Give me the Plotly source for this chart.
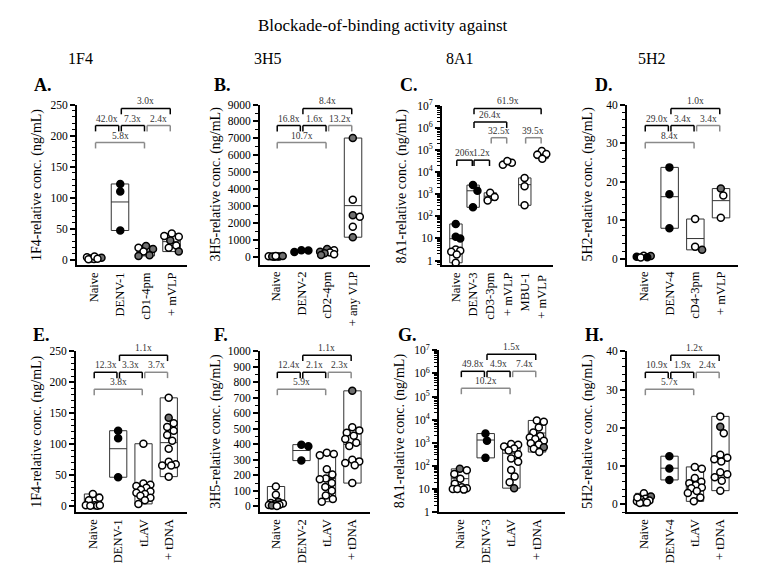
import numpy as np
import plotly.graph_objects as go

# ---------------- data ----------------
A_cats = ["Naive", "DENV-1", "cD1-4pm", "+ mVLP"]
A_vals = [[4, 2, 1, 0.5, 3, 5, 1.5], [122, 110, 47], [22, 19, 17, 13, 7, 6], [42, 38, 37, 31, 23, 19, 13]]
A_fill = ["wgwwgww", "kkk", "gwgwgg", "wwwgwwg"]
A_brk = [(1, 3, 0, "3.0x"), (0, 1, 1, "42.0x"), (1, 2, 1, "7.3x"), (2, 3, 1, "2.4x"), (0, 2, 2, "5.8x")]

B_cats = ["Naive", "DENV-2", "cD2-4pm", "+ any VLP"]
B_vals = [[20, 10, 40, 5, 30, 15, 50], [280, 370, 380], [450, 380, 300, 250, 200, 150, 100],
          [7020, 3365, 2365, 2460, 1770, 1154]]
B_fill = ["wwgwwgw", "kkk", "gwgwgwg", "gwwgwg"]
B_brk = [(1, 3, 0, "8.4x"), (0, 1, 1, "16.8x"), (1, 2, 1, "1.6x"), (2, 3, 1, "13.2x"), (0, 2, 2, "10.7x")]

C_cats = ["Naive", "DENV-3", "cD3-3pm", "+ mVLP", "MBU-1", "+ mVLP "]
C_vals = [[45, 12, 10, 3.2, 2.8, 2.5, 1.9, 0.8], [2560, 1440, 255], [1150, 520, 750],
          [21000, 26000, 31000], [5400, 2300, 314], [88000, 65000, 60000, 40000]]
C_fill = ["kkkwwwww", "kkk", "www", "www", "www", "wwww"]
C_brk = [(1, 5, 0, "61.9x"), (1, 3, 1, "26.4x"), (2, 3, 2, "32.5x"), (4, 5, 2, "39.5x"),
         (0, 1, 3, "206x"), (1, 2, 3, "1.2x")]

D_cats = ["Naive", "DENV-4", "cD4-3pm", "+ mVLP"]
D_vals = [[0.5, 0.8, 0.3, 0.7, 0.4], [23.7, 16.7, 7.9], [10.3, 3.1, 2.3], [18.2, 16.4, 10.6]]
D_fill = ["kwwgk", "kkk", "wwg", "gww"]
D_brk = [(1, 3, 0, "1.0x"), (0, 1, 1, "29.0x"), (1, 2, 1, "3.4x"), (2, 3, 1, "3.4x"), (0, 2, 2, "8.4x")]

E_cats = ["Naive", "DENV-1", "tLAV", "+ tDNA"]
E_vals = [[20, 14, 10, 2, 2, 1, 1, 2], [122, 110, 47],
          [101, 37, 35, 33, 30, 27, 24, 22, 20, 17, 14, 10, 4],
          [175, 143, 134, 128, 122, 115, 106, 93, 72, 68, 66, 66, 48]]
E_fill = ["wwwwwwww", "kkk", "w" * 13, "wg" + "w" * 11]
E_brk = [(1, 3, 0, "1.1x"), (0, 1, 1, "12.3x"), (1, 2, 1, "3.3x"), (2, 3, 1, "3.7x"), (0, 2, 2, "3.8x")]

F_cats = ["Naive", "DENV-2", "tLAV", "+ tDNA"]
F_vals = [[128, 75, 30, 22, 18, 14, 10, 8, 5, 3], [398, 387, 295],
          [345, 338, 330, 240, 205, 180, 175, 150, 125, 100, 70, 48, 30],
          [745, 510, 490, 475, 455, 435, 410, 390, 300, 290, 280, 265, 150]]
F_fill = ["wwgwwgwwgw", "kkk", "w" * 13, "g" + "w" * 12]
F_brk = [(1, 3, 0, "1.1x"), (0, 1, 1, "12.4x"), (1, 2, 1, "2.1x"), (2, 3, 1, "2.3x"), (0, 2, 2, "5.9x")]

G_cats = ["Naive", "DENV-3", "tLAV", "+ tDNA"]
G_vals = [[75, 65, 45, 28, 17, 12, 11, 10, 10, 9.5], [2520, 1230, 224],
          [900, 820, 700, 570, 470, 320, 210, 152, 67, 35, 20, 11],
          [9300, 8100, 4600, 2800, 2000, 1700, 1450, 1240, 960, 850, 650, 550, 400]]
G_fill = ["gwwwwwwwww", "kkk", "w" * 11 + "g", "w" * 10 + "gww"]
G_brk = [(1, 3, 0, "1.5x"), (0, 1, 1, "49.8x"), (1, 2, 1, "4.9x"), (2, 3, 1, "7.4x"), (0, 2, 2, "10.2x")]

H_cats = ["Naive", "DENV-4", "tLAV", "+ tDNA"]
H_vals = [[2.9, 2.1, 1.5, 1.2, 1.0, 0.8, 0.6, 0.4, 0.5, 1.8], [12.6, 9.4, 6.4],
          [9.8, 9.3, 6.9, 5.9, 5.5, 5.0, 4.4, 4.2, 3.5, 3.0, 1.8, 0.8],
          [23, 20.3, 18.6, 13, 12.2, 11.8, 11.2, 8.4, 7.9, 7.1, 6.2, 3.6]]
H_fill = ["wgwwwwwwww", "kkk", "w" * 12, "wg" + "w" * 10]
H_brk = [(1, 3, 0, "1.2x"), (0, 1, 1, "10.9x"), (1, 2, 1, "1.9x"), (2, 3, 1, "2.4x"), (0, 2, 2, "5.7x")]

TITLE = "Blockade-of-binding activity against"
HEADERS = ["1F4", "3H5", "8A1", "5H2"]
YTITLES = ["1F4-relative conc. (ng/mL)", "3H5-relative conc. (ng/mL)",
           "8A1-relative conc. (ng/mL)", "5H2-relative conc. (ng/mL)"]

# ---------------- layout config ----------------
W, H = 767, 567
FONT = "Liberation Serif"
FILLS = {"w": "white", "k": "black", "g": "#707070"}

LV4 = [4, 21.5, 39]
LV6 = [3, 17, 33, 56]

panels = [
    dict(d=(A_cats, A_vals, A_fill, A_brk), letter="A.", lx=32, ly=79, x0=77, x1=187, yt=99, yb=264,
         xr=(-0.67, 3.6), yr=(-9.4, 250), log=False, dt=50, mdt=10, yti=YTITLES[0], tx=37, bw=0.68, lv=LV4),
    dict(d=(B_cats, B_vals, B_fill, B_brk), letter="B.", lx=212, ly=79, x0=260, x1=370, yt=99, yb=263,
         xr=(-0.62, 3.66), yr=(-460, 9000), log=False, dt=1000, mdt=500, yti=YTITLES[1], tx=216, bw=0.68, lv=LV4),
    dict(d=(C_cats, C_vals, C_fill, C_brk), letter="C.", lx=398, ly=79, x0=442, x1=553, yt=100, yb=264,
         xr=(-0.81, 5.64), yr=(-0.22, 7), log=True, yti=YTITLES[2], tx=402, bw=0.72, lv=LV6),
    dict(d=(D_cats, D_vals, D_fill, D_brk), letter="D.", lx=593, ly=79, x0=627, x1=738, yt=99, yb=263,
         xr=(-0.66, 3.66), yr=(-1.5, 40), log=False, dt=10, mdt=2, yti=YTITLES[3], tx=588, bw=0.68, lv=LV4),
    dict(d=(E_cats, E_vals, E_fill, E_brk), letter="E.", lx=31, ly=335, x0=76, x1=187, yt=352, yb=517,
         xr=(-0.67, 3.72), yr=(-9.4, 250), log=False, dt=50, mdt=10, yti=YTITLES[0], tx=37, bw=0.68, lv=LV4),
    dict(d=(F_cats, F_vals, F_fill, F_brk), letter="F.", lx=212, ly=335, x0=260, x1=370, yt=352, yb=517,
         xr=(-0.63, 3.69), yr=(-38, 1000), log=False, dt=100, mdt=50, yti=YTITLES[1], tx=216, bw=0.68, lv=LV4),
    dict(d=(G_cats, G_vals, G_fill, G_brk), letter="G.", lx=396, ly=335, x0=439, x1=565, yt=351, yb=517,
         xr=(-0.82, 4.09), yr=(0, 7), log=True, yti=YTITLES[2], tx=400, bw=0.68, lv=LV4),
    dict(d=(H_cats, H_vals, H_fill, H_brk), letter="H.", lx=583, ly=335, x0=627, x1=738, yt=352, yb=517,
         xr=(-0.67, 3.69), yr=(-2.04, 40), log=False, dt=10, mdt=2, yti=YTITLES[3], tx=588, bw=0.68, lv=LV4),
]


def swarm(vals, ypx, maxoff, d=7.5):
    n = len(vals)
    order = sorted(range(n), key=lambda k: -vals[k])
    cands = sorted(np.arange(-maxoff, maxoff + 1e-9, 0.5), key=lambda c: (abs(c), c))
    placed, offs = [], [0.0] * n
    for k in order:
        y = ypx(vals[k])
        best, bestd = 0.0, -1.0
        for c in cands:
            md = min([np.hypot(c - px, y - py) for px, py in placed], default=1e9)
            if md >= d:
                best = c
                break
            if md > bestd:
                bestd, best = md, c
        placed.append((best, y))
        offs[k] = best
    return offs


fig = go.Figure()
shapes, annots = [], []
layout_axes = {}

for i, p in enumerate(panels, start=1):
    cats, vals, fills, brks = p["d"]
    xs = "x" if i == 1 else f"x{i}"
    ys = "y" if i == 1 else f"y{i}"
    h = p["yb"] - p["yt"]
    pxx = (p["x1"] - p["x0"]) / (p["xr"][1] - p["xr"][0])
    pxy = h / (p["yr"][1] - p["yr"][0])
    if p["log"]:
        ypx = lambda v, p=p, pxy=pxy: (np.log10(v) - p["yr"][0]) * pxy
    else:
        ypx = lambda v, p=p, pxy=pxy: (v - p["yr"][0]) * pxy
    bw = p["bw"]
    maxoff = bw * pxx / 2 - 1.5

    # boxes (min-max) with mean line
    for j, v in enumerate(vals):
        lo, hi, mu = min(v), max(v), float(np.mean(v))
        fig.add_trace(go.Scatter(x=[j - bw / 2, j + bw / 2, j + bw / 2, j - bw / 2, j - bw / 2],
                                 y=[lo, lo, hi, hi, lo], mode="lines",
                                 line=dict(color="#333333", width=1), xaxis=xs, yaxis=ys,
                                 hoverinfo="skip", showlegend=False))
        fig.add_trace(go.Scatter(x=[j - bw / 2, j + bw / 2], y=[mu, mu], mode="lines",
                                 line=dict(color="#333333", width=1), xaxis=xs, yaxis=ys,
                                 hoverinfo="skip", showlegend=False))
    # points
    for j, v in enumerate(vals):
        offs = swarm(v, ypx, maxoff)
        fig.add_trace(go.Scatter(x=[j + o / pxx for o in offs], y=v, mode="markers",
                                 marker=dict(size=7, color=[FILLS[c] for c in fills[j]],
                                             line=dict(color="black", width=1.5)),
                                 xaxis=xs, yaxis=ys, showlegend=False, cliponaxis=False))

    # brackets
    leg = 6 / h
    for (a, b, lev, lab) in brks:
        L = 1 - p["lv"][lev] / h
        xa, xb = a + 0.05, b - 0.05
        col = "black" if 1 in (a, b) else "#8a8a8a"
        for (X0, Y0, X1, Y1) in [(xa, L, xb, L), (xa, L, xa, L - leg), (xb, L, xb, L - leg)]:
            shapes.append(dict(type="line", xref=xs, yref=f"{ys} domain", x0=X0, y0=Y0, x1=X1, y1=Y1,
                               line=dict(color=col, width=1.5)))
        annots.append(dict(text=lab, x=(a + b) / 2, y=L, xref=xs, yref=f"{ys} domain",
                           xanchor="center", yanchor="bottom", showarrow=False,
                           font=dict(size=9.5, color="#333333", family=FONT)))

    # axes
    xa_d = dict(domain=[p["x0"] / W, p["x1"] / W], range=list(p["xr"]), anchor=ys,
                showline=True, linewidth=2, linecolor="black", ticks="",
                tickmode="array", tickvals=list(range(len(cats))), ticktext=cats,
                tickangle=-90, tickfont=dict(size=12.5, family=FONT, color="black"),
                showgrid=False, zeroline=False, fixedrange=True)
    ya_d = dict(domain=[1 - p["yb"] / H, 1 - p["yt"] / H], range=list(p["yr"]), anchor=xs,
                showline=True, linewidth=2, linecolor="black", ticks="outside", ticklen=5,
                tickwidth=1.5, tickcolor="black", showgrid=False, zeroline=False,
                tickfont=dict(size=11.5, family=FONT, color="black"), fixedrange=True)
    if p["log"]:
        ya_d.update(type="log", tickmode="array", tickvals=[10 ** k for k in range(8)],
                    ticktext=["1", "10"] + [f"10<sup>{k}</sup>" for k in range(2, 8)],
                    minor=dict(ticks="outside", ticklen=3, tickwidth=1, tickcolor="black", dtick="D1"))
    else:
        ya_d.update(tick0=0, dtick=p["dt"],
                    minor=dict(ticks="outside", ticklen=3, tickwidth=1, tickcolor="black",
                               tick0=0, dtick=p["mdt"]))
    layout_axes["xaxis" if i == 1 else f"xaxis{i}"] = xa_d
    layout_axes["yaxis" if i == 1 else f"yaxis{i}"] = ya_d

    # panel letter and y title
    annots.append(dict(text=f"<b>{p['letter']}</b>", x=p["lx"] / W, y=1 - p["ly"] / H,
                       xref="paper", yref="paper", xanchor="left", yanchor="middle",
                       showarrow=False, font=dict(size=18, family=FONT, color="black")))
    annots.append(dict(text=p["yti"], x=p["tx"] / W, y=1 - (p["yt"] + p["yb"]) / 2 / H,
                       xref="paper", yref="paper", xanchor="center", yanchor="middle",
                       textangle=-90, showarrow=False, font=dict(size=14, family=FONT, color="black")))

# title and column headers
annots.append(dict(text=TITLE, x=383 / W, y=1 - 18 / H, xref="paper", yref="paper",
                   xanchor="center", yanchor="middle", showarrow=False,
                   font=dict(size=17, family=FONT, color="black")))
for hx, ht in zip([80, 268, 460, 652], HEADERS):
    annots.append(dict(text=ht, x=hx / W, y=1 - 52 / H, xref="paper", yref="paper",
                       xanchor="center", yanchor="middle", showarrow=False,
                       font=dict(size=16, family=FONT, color="black")))

fig.update_layout(width=W, height=H, margin=dict(l=0, r=0, t=0, b=0),
                  paper_bgcolor="white", plot_bgcolor="white", showlegend=False,
                  font=dict(family=FONT, color="black"), shapes=shapes, annotations=annots,
                  **layout_axes)
fig.write_html("out.html", config={"displayModeBar": False},
               post_script="document.body.style.margin='0px';document.body.style.overflow='hidden';")
